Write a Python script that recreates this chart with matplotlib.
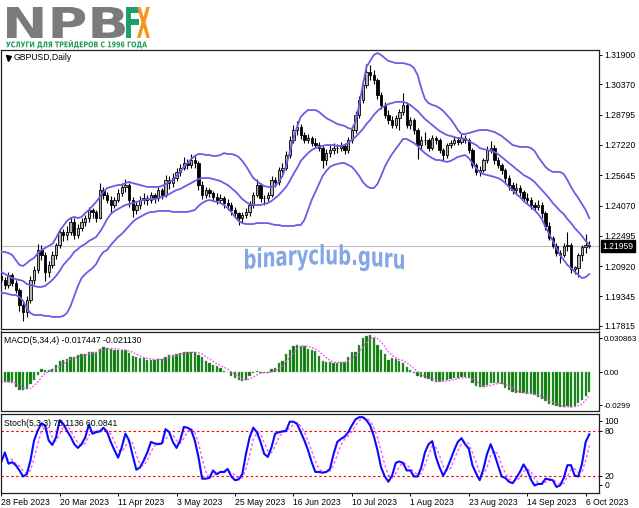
import matplotlib
matplotlib.use("Agg")
import matplotlib.pyplot as plt
import matplotlib.transforms as mtransforms
from matplotlib.font_manager import FontProperties
from matplotlib.patches import PathPatch
from matplotlib.path import Path
from matplotlib.textpath import TextPath
import numpy as np

plt.rcParams["font.family"] = ["Liberation Sans", "DejaVu Sans"]

# ---------------- data ----------------
symbol = "GBPUSD,Daily"
date_labels = ["28 Feb 2023", "20 Mar 2023", "11 Apr 2023", "3 May 2023", "25 May 2023",
               "16 Jun 2023", "10 Jul 2023", "1 Aug 2023", "23 Aug 2023", "14 Sep 2023",
               "6 Oct 2023"]
label_every = 16  # bars between two date labels

opens = [
    1.2040, 1.2018, 1.1992, 1.2045, 1.2003, 1.1966, 1.1888, 1.1852, 1.1914, 1.2018,
    1.2071, 1.2175, 1.2149, 1.2060, 1.2097, 1.2149, 1.2201, 1.2268, 1.2253, 1.2268,
    1.2320, 1.2253, 1.2289, 1.2320, 1.2341, 1.2383, 1.2372, 1.2341, 1.2487, 1.2461,
    1.2435, 1.2409, 1.2435, 1.2471, 1.2503, 1.2513, 1.2435, 1.2383, 1.2409, 1.2435,
    1.2445, 1.2435, 1.2461, 1.2445, 1.2487, 1.2461, 1.2539, 1.2524, 1.2550, 1.2581,
    1.2602, 1.2628, 1.2617, 1.2643, 1.2628, 1.2513, 1.2461, 1.2487, 1.2471, 1.2451,
    1.2435, 1.2445, 1.2419, 1.2409, 1.2383, 1.2367, 1.2341, 1.2357, 1.2372, 1.2409,
    1.2461, 1.2513, 1.2445, 1.2445, 1.2461, 1.2539, 1.2529, 1.2591, 1.2602, 1.2669,
    1.2747, 1.2799, 1.2815, 1.2773, 1.2747, 1.2758, 1.2732, 1.2721, 1.2706, 1.2643,
    1.2680, 1.2695, 1.2706, 1.2706, 1.2716, 1.2695, 1.2747, 1.2799, 1.2878, 1.2956,
    1.3034, 1.3101, 1.3086, 1.3060, 1.2982, 1.2930, 1.2878, 1.2852, 1.2826, 1.2862,
    1.2893, 1.2930, 1.2826, 1.2852, 1.2799, 1.2721, 1.2747, 1.2747, 1.2706, 1.2758,
    1.2747, 1.2695, 1.2669, 1.2721, 1.2732, 1.2747, 1.2737, 1.2758, 1.2747, 1.2695,
    1.2617, 1.2581, 1.2591, 1.2643, 1.2695, 1.2706, 1.2643, 1.2617, 1.2591, 1.2550,
    1.2513, 1.2487, 1.2497, 1.2477, 1.2445, 1.2435, 1.2409, 1.2399, 1.2409, 1.2370,
    1.2300, 1.2240, 1.2195, 1.2160, 1.2150, 1.2195, 1.2200, 1.2075, 1.2085, 1.2150,
    1.2190, 1.2200]
highs = [
    1.2065, 1.2035, 1.2060, 1.2055, 1.2020, 1.1980, 1.1905, 1.1935, 1.2040, 1.2095,
    1.2205, 1.2200, 1.2165, 1.2120, 1.2170, 1.2215, 1.2290, 1.2285, 1.2300, 1.2345,
    1.2340, 1.2310, 1.2340, 1.2360, 1.2400, 1.2395, 1.2385, 1.2525, 1.2505, 1.2480,
    1.2455, 1.2450, 1.2495, 1.2525, 1.2545, 1.2525, 1.2450, 1.2430, 1.2455, 1.2470,
    1.2460, 1.2480, 1.2475, 1.2505, 1.2500, 1.2565, 1.2560, 1.2575, 1.2600, 1.2625,
    1.2660, 1.2650, 1.2675, 1.2665, 1.2640, 1.2535, 1.2505, 1.2500, 1.2485, 1.2470,
    1.2465, 1.2455, 1.2440, 1.2425, 1.2400, 1.2375, 1.2375, 1.2395, 1.2430, 1.2480,
    1.2545, 1.2525, 1.2460, 1.2480, 1.2560, 1.2555, 1.2610, 1.2630, 1.2690, 1.2770,
    1.2825, 1.2845, 1.2830, 1.2790, 1.2780, 1.2770, 1.2760, 1.2740, 1.2715, 1.2700,
    1.2720, 1.2730, 1.2725, 1.2740, 1.2730, 1.2765, 1.2820, 1.2900, 1.2975, 1.3055,
    1.3143, 1.3140, 1.3110, 1.3070, 1.3000, 1.2945, 1.2905, 1.2875, 1.2880, 1.2910,
    1.2990, 1.2945, 1.2870, 1.2865, 1.2810, 1.2770, 1.2790, 1.2760, 1.2775, 1.2770,
    1.2760, 1.2705, 1.2735, 1.2750, 1.2770, 1.2765, 1.2780, 1.2775, 1.2760, 1.2705,
    1.2630, 1.2615, 1.2655, 1.2715, 1.2745, 1.2720, 1.2660, 1.2630, 1.2605, 1.2565,
    1.2530, 1.2525, 1.2515, 1.2490, 1.2470, 1.2450, 1.2425, 1.2435, 1.2425, 1.2380,
    1.2320, 1.2250, 1.2215, 1.2175, 1.2210, 1.2270, 1.2215, 1.2095, 1.2160, 1.2200,
    1.2260, 1.2225]
lows = [
    1.2005, 1.1975, 1.1980, 1.1990, 1.1950, 1.1860, 1.1805, 1.1830, 1.1900, 1.2000,
    1.2055, 1.2125, 1.2015, 1.2035, 1.2080, 1.2130, 1.2185, 1.2225, 1.2230, 1.2255,
    1.2235, 1.2240, 1.2275, 1.2300, 1.2320, 1.2345, 1.2320, 1.2335, 1.2440, 1.2420,
    1.2370, 1.2395, 1.2425, 1.2455, 1.2480, 1.2400, 1.2350, 1.2365, 1.2390, 1.2415,
    1.2410, 1.2420, 1.2420, 1.2430, 1.2440, 1.2450, 1.2495, 1.2505, 1.2535, 1.2560,
    1.2590, 1.2595, 1.2605, 1.2600, 1.2490, 1.2440, 1.2445, 1.2450, 1.2430, 1.2415,
    1.2420, 1.2395, 1.2385, 1.2360, 1.2340, 1.2305, 1.2320, 1.2345, 1.2355, 1.2395,
    1.2450, 1.2425, 1.2410, 1.2430, 1.2450, 1.2505, 1.2515, 1.2575, 1.2590, 1.2655,
    1.2735, 1.2775, 1.2755, 1.2730, 1.2730, 1.2715, 1.2705, 1.2690, 1.2600, 1.2620,
    1.2660, 1.2675, 1.2680, 1.2690, 1.2675, 1.2680, 1.2735, 1.2785, 1.2865, 1.2940,
    1.3020, 1.3060, 1.3040, 1.2960, 1.2910, 1.2860, 1.2830, 1.2810, 1.2810, 1.2800,
    1.2880, 1.2810, 1.2805, 1.2780, 1.2650, 1.2700, 1.2720, 1.2690, 1.2695, 1.2725,
    1.2680, 1.2640, 1.2655, 1.2705, 1.2720, 1.2720, 1.2725, 1.2730, 1.2680, 1.2600,
    1.2565, 1.2560, 1.2580, 1.2630, 1.2680, 1.2625, 1.2600, 1.2570, 1.2530, 1.2490,
    1.2465, 1.2470, 1.2455, 1.2430, 1.2420, 1.2390, 1.2380, 1.2385, 1.2340, 1.2280,
    1.2230, 1.2185, 1.2145, 1.2110, 1.2140, 1.2170, 1.2055, 1.2050, 1.2037, 1.2120,
    1.2160, 1.2185]
closes = [
    1.2018, 1.1992, 1.2045, 1.2003, 1.1966, 1.1888, 1.1852, 1.1914, 1.2018, 1.2071,
    1.2175, 1.2149, 1.2060, 1.2097, 1.2149, 1.2201, 1.2268, 1.2253, 1.2268, 1.2320,
    1.2253, 1.2289, 1.2320, 1.2341, 1.2383, 1.2372, 1.2341, 1.2487, 1.2461, 1.2435,
    1.2409, 1.2435, 1.2471, 1.2503, 1.2513, 1.2435, 1.2383, 1.2409, 1.2435, 1.2445,
    1.2435, 1.2461, 1.2445, 1.2487, 1.2461, 1.2539, 1.2524, 1.2550, 1.2581, 1.2602,
    1.2628, 1.2617, 1.2643, 1.2628, 1.2513, 1.2461, 1.2487, 1.2471, 1.2451, 1.2435,
    1.2445, 1.2419, 1.2409, 1.2383, 1.2367, 1.2341, 1.2357, 1.2372, 1.2409, 1.2461,
    1.2513, 1.2445, 1.2445, 1.2461, 1.2539, 1.2529, 1.2591, 1.2602, 1.2669, 1.2747,
    1.2799, 1.2815, 1.2773, 1.2747, 1.2758, 1.2732, 1.2721, 1.2706, 1.2643, 1.2680,
    1.2695, 1.2706, 1.2706, 1.2716, 1.2695, 1.2747, 1.2799, 1.2878, 1.2956, 1.3034,
    1.3101, 1.3086, 1.3060, 1.2982, 1.2930, 1.2878, 1.2852, 1.2826, 1.2862, 1.2893,
    1.2930, 1.2826, 1.2852, 1.2799, 1.2721, 1.2747, 1.2747, 1.2706, 1.2758, 1.2747,
    1.2695, 1.2669, 1.2721, 1.2732, 1.2747, 1.2737, 1.2758, 1.2747, 1.2695, 1.2617,
    1.2581, 1.2591, 1.2643, 1.2695, 1.2706, 1.2643, 1.2617, 1.2591, 1.2550, 1.2513,
    1.2487, 1.2497, 1.2477, 1.2445, 1.2435, 1.2409, 1.2399, 1.2409, 1.2370, 1.2300,
    1.2240, 1.2195, 1.2160, 1.2150, 1.2195, 1.2200, 1.2075, 1.2085, 1.2150, 1.2190,
    1.2200, 1.21959]
last_price = 1.21959

bb_upper = [
    1.2166, 1.2166, 1.2160, 1.2150, 1.2124, 1.2098, 1.2093, 1.2108, 1.2124, 1.2134,
    1.2160, 1.2176, 1.2186, 1.2197, 1.2207, 1.2238, 1.2275, 1.2301, 1.2327, 1.2342,
    1.2348, 1.2342, 1.2348, 1.2368, 1.2384, 1.2405, 1.2426, 1.2452, 1.2478, 1.2498,
    1.2504, 1.2509, 1.2514, 1.2514, 1.2524, 1.2530, 1.2524, 1.2519, 1.2514, 1.2509,
    1.2504, 1.2504, 1.2504, 1.2504, 1.2509, 1.2519, 1.2530, 1.2540, 1.2561, 1.2582,
    1.2608, 1.2628, 1.2649, 1.2665, 1.2675, 1.2675, 1.2670, 1.2670, 1.2665, 1.2665,
    1.2670, 1.2680, 1.2675, 1.2675, 1.2670, 1.2660, 1.2639, 1.2613, 1.2582, 1.2550,
    1.2535, 1.2519, 1.2509, 1.2504, 1.2504, 1.2509, 1.2530, 1.2561, 1.2613, 1.2686,
    1.2758, 1.2816, 1.2868, 1.2888, 1.2904, 1.2904, 1.2904, 1.2894, 1.2878, 1.2862,
    1.2852, 1.2842, 1.2831, 1.2826, 1.2821, 1.2810, 1.2805, 1.2842, 1.2930, 1.3034,
    1.3128, 1.3159, 1.3190, 1.3200, 1.3190, 1.3174, 1.3159, 1.3154, 1.3148, 1.3148,
    1.3148, 1.3143, 1.3138, 1.3122, 1.3086, 1.3018, 1.2961, 1.2940, 1.2930, 1.2925,
    1.2914, 1.2899, 1.2878, 1.2857, 1.2831, 1.2800, 1.2779, 1.2779, 1.2784, 1.2790,
    1.2795, 1.2800, 1.2800, 1.2800, 1.2795, 1.2790, 1.2779, 1.2769, 1.2753, 1.2738,
    1.2722, 1.2717, 1.2712, 1.2712, 1.2712, 1.2706, 1.2691, 1.2660, 1.2634, 1.2608,
    1.2592, 1.2582, 1.2582, 1.2582, 1.2571, 1.2540, 1.2504, 1.2472, 1.2446, 1.2415,
    1.2384, 1.2342]
bb_middle = [
    1.2062, 1.2051, 1.2041, 1.2030, 1.2025, 1.2020, 1.2015, 1.1999, 1.1994, 1.1989,
    1.1984, 1.1984, 1.1989, 1.2004, 1.2020, 1.2041, 1.2067, 1.2098, 1.2119, 1.2140,
    1.2166, 1.2181, 1.2197, 1.2207, 1.2223, 1.2233, 1.2244, 1.2270, 1.2301, 1.2337,
    1.2363, 1.2379, 1.2389, 1.2400, 1.2410, 1.2415, 1.2420, 1.2426, 1.2431, 1.2436,
    1.2441, 1.2441, 1.2441, 1.2446, 1.2452, 1.2457, 1.2467, 1.2478, 1.2488, 1.2493,
    1.2504, 1.2514, 1.2524, 1.2535, 1.2545, 1.2550, 1.2550, 1.2550, 1.2545, 1.2540,
    1.2535, 1.2524, 1.2514, 1.2498, 1.2483, 1.2462, 1.2441, 1.2426, 1.2415, 1.2410,
    1.2410, 1.2410, 1.2415, 1.2420, 1.2431, 1.2446, 1.2462, 1.2483, 1.2504, 1.2535,
    1.2571, 1.2602, 1.2639, 1.2660, 1.2680, 1.2696, 1.2706, 1.2712, 1.2717, 1.2722,
    1.2722, 1.2722, 1.2717, 1.2717, 1.2722, 1.2732, 1.2748, 1.2764, 1.2784, 1.2805,
    1.2831, 1.2852, 1.2878, 1.2899, 1.2914, 1.2925, 1.2935, 1.2940, 1.2946, 1.2946,
    1.2946, 1.2940, 1.2930, 1.2914, 1.2899, 1.2878, 1.2857, 1.2842, 1.2826, 1.2810,
    1.2795, 1.2784, 1.2774, 1.2769, 1.2764, 1.2758, 1.2758, 1.2753, 1.2743, 1.2732,
    1.2722, 1.2706, 1.2701, 1.2696, 1.2691, 1.2686, 1.2675, 1.2660, 1.2644, 1.2628,
    1.2613, 1.2597, 1.2582, 1.2566, 1.2556, 1.2545, 1.2530, 1.2509, 1.2488, 1.2467,
    1.2446, 1.2420, 1.2400, 1.2379, 1.2363, 1.2337, 1.2316, 1.2290, 1.2270, 1.2249,
    1.2223, 1.2202]
bb_lower = [
    1.1952, 1.1952, 1.1947, 1.1942, 1.1942, 1.1932, 1.1911, 1.1874, 1.1848, 1.1838,
    1.1838, 1.1838, 1.1833, 1.1833, 1.1828, 1.1828, 1.1828, 1.1833, 1.1848, 1.1885,
    1.1937, 1.1989, 1.2030, 1.2051, 1.2067, 1.2082, 1.2103, 1.2140, 1.2166, 1.2176,
    1.2202, 1.2223, 1.2244, 1.2259, 1.2280, 1.2301, 1.2322, 1.2337, 1.2348, 1.2358,
    1.2368, 1.2374, 1.2374, 1.2379, 1.2379, 1.2379, 1.2379, 1.2374, 1.2374, 1.2374,
    1.2374, 1.2374, 1.2379, 1.2384, 1.2405, 1.2420, 1.2431, 1.2436, 1.2431, 1.2426,
    1.2420, 1.2410, 1.2394, 1.2374, 1.2348, 1.2327, 1.2316, 1.2311, 1.2311, 1.2311,
    1.2316, 1.2316, 1.2316, 1.2316, 1.2311, 1.2306, 1.2306, 1.2301, 1.2301, 1.2301,
    1.2301, 1.2306, 1.2306, 1.2332, 1.2384, 1.2436, 1.2478, 1.2519, 1.2561, 1.2587,
    1.2608, 1.2618, 1.2623, 1.2628, 1.2628, 1.2618, 1.2608, 1.2587, 1.2561, 1.2530,
    1.2509, 1.2498, 1.2498, 1.2519, 1.2561, 1.2608, 1.2644, 1.2675, 1.2701, 1.2727,
    1.2753, 1.2753, 1.2743, 1.2732, 1.2717, 1.2696, 1.2680, 1.2665, 1.2654, 1.2644,
    1.2644, 1.2639, 1.2634, 1.2639, 1.2649, 1.2660, 1.2665, 1.2670, 1.2654, 1.2628,
    1.2602, 1.2582, 1.2571, 1.2566, 1.2561, 1.2556, 1.2550, 1.2540, 1.2524, 1.2504,
    1.2488, 1.2467, 1.2452, 1.2431, 1.2415, 1.2400, 1.2384, 1.2363, 1.2337, 1.2296,
    1.2259, 1.2223, 1.2186, 1.2150, 1.2124, 1.2098, 1.2082, 1.2062, 1.2046, 1.2030,
    1.2035, 1.2051]

macd_main = [
    -0.0088, -0.0090, -0.0088, -0.0095, -0.0130, -0.0160, -0.0163, -0.0150, -0.0110, -0.0070,
    -0.0027, 0.0033, 0.0020, 0.0018, 0.0030, 0.0063, 0.0105, 0.0110, 0.0124, 0.0135,
    0.0139, 0.0154, 0.0162, 0.0170, 0.0185, 0.0185, 0.0183, 0.0215, 0.0230, 0.0222,
    0.0210, 0.0205, 0.0200, 0.0202, 0.0198, 0.0175, 0.0150, 0.0135, 0.0130, 0.0128,
    0.0115, 0.0112, 0.0110, 0.0125, 0.0122, 0.0140, 0.0155, 0.0160, 0.0165, 0.0175,
    0.0180, 0.0182, 0.0185, 0.0180, 0.0160, 0.0135, 0.0100, 0.0085, 0.0070, 0.0060,
    0.0035, 0.0015, 0.0005, -0.0035, -0.0055, -0.0072, -0.0078, -0.0068, -0.0030, -0.0005,
    0.0008, -0.0006, -0.0008, -0.0004, 0.0030, 0.0035, 0.0080, 0.0100, 0.0170, 0.0200,
    0.0235, 0.0245, 0.0242, 0.0238, 0.0215, 0.0200, 0.0190, 0.0150, 0.0100, 0.0092,
    0.0090, 0.0088, 0.0088, 0.0090, 0.0092, 0.0140, 0.0180, 0.0185, 0.0250, 0.0310,
    0.0330, 0.0335, 0.0310, 0.0250, 0.0200, 0.0170, 0.0110, 0.0130, 0.0120, 0.0100,
    0.0080, 0.0050, 0.0020, -0.0010, -0.0035, -0.0045, -0.0055, -0.0065, -0.0075, -0.0085,
    -0.0085, -0.0080, -0.0070, -0.0060, -0.0055, -0.0050, -0.0045, -0.0045, -0.0050, -0.0100,
    -0.0125, -0.0135, -0.0130, -0.0115, -0.0095, -0.0100, -0.0095, -0.0105, -0.0140, -0.0160,
    -0.0175, -0.0185, -0.0190, -0.0190, -0.0195, -0.0200, -0.0210, -0.0225, -0.0240, -0.0265,
    -0.0285, -0.0300, -0.0310, -0.0315, -0.0318, -0.0310, -0.0315, -0.0305, -0.0280, -0.0250,
    -0.0215, -0.017447]
macd_signal = [
    -0.0085, -0.0087, -0.0088, -0.0090, -0.0101, -0.0118, -0.0137, -0.0151, -0.0146, -0.0123,
    -0.0089, -0.0044, -0.0011, 0.0011, 0.0025, 0.0033, 0.0054, 0.0077, 0.0101, 0.0119,
    0.0127, 0.0138, 0.0148, 0.0156, 0.0168, 0.0176, 0.0181, 0.0192, 0.0203, 0.0213,
    0.0219, 0.0217, 0.0209, 0.0204, 0.0201, 0.0194, 0.0181, 0.0165, 0.0148, 0.0136,
    0.0127, 0.0121, 0.0116, 0.0116, 0.0117, 0.0124, 0.0136, 0.0144, 0.0155, 0.0164,
    0.0170, 0.0176, 0.0181, 0.0182, 0.0177, 0.0165, 0.0144, 0.0120, 0.0098, 0.0079,
    0.0063, 0.0045, 0.0029, 0.0005, -0.0018, -0.0039, -0.0060, -0.0068, -0.0062, -0.0045,
    -0.0024, -0.0008, -0.0003, -0.0003, 0.0003, 0.0013, 0.0035, 0.0061, 0.0096, 0.0138,
    0.0176, 0.0213, 0.0231, 0.0240, 0.0235, 0.0224, 0.0211, 0.0189, 0.0160, 0.0133,
    0.0108, 0.0093, 0.0090, 0.0089, 0.0090, 0.0103, 0.0126, 0.0149, 0.0189, 0.0231,
    0.0269, 0.0306, 0.0321, 0.0306, 0.0274, 0.0233, 0.0183, 0.0153, 0.0133, 0.0115,
    0.0108, 0.0088, 0.0063, 0.0035, 0.0006, -0.0018, -0.0036, -0.0050, -0.0060, -0.0070,
    -0.0078, -0.0081, -0.0080, -0.0074, -0.0066, -0.0059, -0.0053, -0.0049, -0.0048, -0.0060,
    -0.0080, -0.0103, -0.0123, -0.0126, -0.0119, -0.0110, -0.0101, -0.0099, -0.0110, -0.0125,
    -0.0145, -0.0165, -0.0178, -0.0185, -0.0190, -0.0194, -0.0199, -0.0208, -0.0219, -0.0235,
    -0.0254, -0.0273, -0.0290, -0.0303, -0.0311, -0.0313, -0.0315, -0.0312, -0.0303, -0.0288,
    -0.0255, -0.021130]

stoch_k = [
    38, 51, 36, 38, 34, 27, 19, 22, 40, 67,
    80, 90, 87, 67, 61, 71, 94, 89, 80, 72,
    62, 57, 62, 71, 88, 76, 78, 79, 84, 78,
    65, 54, 44, 58, 76, 67, 47, 28, 31, 40,
    51, 65, 63, 62, 63, 82, 78, 65, 57, 67,
    85, 84, 81, 67, 45, 16, 16, 17, 27, 22,
    25, 25, 29, 19, 14, 15, 22, 49, 71, 84,
    78, 65, 49, 45, 58, 76, 78, 79, 80, 92,
    92, 89, 78, 67, 54, 38, 25, 25, 24, 25,
    29, 49, 65, 69, 72, 78, 87, 95, 98, 98,
    94, 87, 73, 54, 31, 19, 12, 20, 37, 39,
    37, 27, 27, 19, 19, 31, 51, 62, 66, 45,
    31, 20, 29, 41, 54, 65, 70, 62, 56, 34,
    23, 14, 29, 49, 62, 49, 34, 19, 17, 12,
    10, 17, 25, 35, 27, 15, 7, 9, 9, 16,
    15, 14, 5, 7, 17, 34, 34, 20, 19, 36,
    65, 75.1136]
stoch_d = [
    42, 44, 41.7, 41.7, 36, 33, 26.7, 22.7, 27, 43,
    62.3, 79, 85.7, 81.3, 71.7, 66.3, 75.3, 84.7, 87.7, 80.3,
    71.3, 63.7, 60.3, 63.3, 73.7, 78.3, 80.7, 77.7, 80.3, 80.3,
    75.7, 65.7, 54.3, 52, 59.3, 67, 63.3, 47.3, 35.3, 33,
    40.7, 52, 59.7, 63.3, 62.7, 69, 74.3, 75, 66.7, 63,
    69.7, 78.7, 83.3, 77.3, 64.3, 42.7, 25.7, 16.3, 20, 22,
    24.7, 24, 26.3, 24.3, 20.7, 16, 17, 28.7, 47.3, 68,
    77.7, 75.7, 64, 53, 50.7, 59.7, 70.7, 77.7, 79, 83.7,
    88, 91, 86.3, 78, 66.3, 53, 39, 29.3, 24.7, 24.7,
    26, 34.3, 47.7, 61, 68.7, 73, 79, 86.7, 93.3, 97,
    96.7, 93, 84.7, 71.3, 52.7, 34.7, 20.7, 17, 23, 32,
    37.7, 34.3, 30.3, 24.3, 21.7, 23, 33.7, 48, 59.7, 57.7,
    47.3, 32, 26.7, 30, 41.3, 53.3, 63, 65.7, 62.7, 50.7,
    37.7, 23.7, 22, 30.7, 46.7, 53.3, 48.3, 34, 23.3, 16,
    13, 13, 17.3, 25.7, 29, 25.7, 16.3, 10.3, 8.3, 11.3,
    13.3, 15, 11.3, 8.7, 9.7, 19.3, 28.3, 29.3, 24.3, 25,
    40, 60.0841]
stoch_levels = [20, 80]

price_ticks = [1.31900, 1.30370, 1.28795, 1.27220, 1.25645, 1.24070,
               1.22495, 1.20920, 1.19345, 1.17815]
macd_ticks = [0.030863, 0.0, -0.0299]
macd_tick_labels = ["0.030863", "0.00", "-0.0299"]

# ---------------- figure ----------------
W, H = 639, 508
FS = 6.2
fig = plt.figure(figsize=(W / 100, H / 100), dpi=100)
fig.patch.set_facecolor("white")


def panel(top, bottom):
    return fig.add_axes([0.5 / W, 1 - bottom / H, 598.5 / W, (bottom - top) / H])


ax = panel(49.5, 328.5)
axm = panel(331.5, 410.5)
axs = panel(413.5, 492.5)

x = np.arange(len(closes))
for a in (ax, axm, axs):
    a.set_xlim(-0.19, 163.65)
    a.set_facecolor("white")
    for s in a.spines.values():
        s.set_color("#202020")
        s.set_linewidth(0.9)
    a.yaxis.tick_right()
    a.tick_params(axis="y", direction="out", length=2.5, width=0.7, pad=1.5,
                  labelsize=FS, colors="black")
    a.set_xticks([])

# candles
o, h, l, c = map(np.array, (opens, highs, lows, closes))
up = c >= o
ax.vlines(x, l, h, color="black", lw=0.8, zorder=3)
body_lo = np.minimum(o, c)
body_h = np.maximum(np.abs(c - o), 0.00015)
ax.bar(x[up], body_h[up], bottom=body_lo[up], width=0.64, color="#b4b4b4",
       edgecolor="black", lw=0.6, zorder=4)
ax.bar(x[~up], body_h[~up], bottom=body_lo[~up], width=0.64, color="black",
       edgecolor="black", lw=0.6, zorder=4)

bb_col = "#6b5ce7"
for band in (bb_upper, bb_middle, bb_lower):
    ax.plot(x, band, color=bb_col, lw=1.3, zorder=5)

ax.axhline(last_price, color="#c0c0c0", lw=0.8, zorder=1)
ax.set_ylim(1.17678, 1.32186)
ax.set_yticks(price_ticks)
ax.set_yticklabels([f"{v:.5f}" for v in price_ticks])
trans = mtransforms.blended_transform_factory(ax.transAxes, ax.transData)
ax.text(1.006, last_price, f"{last_price:.5f}", transform=trans, ha="left",
        va="center", color="white", fontsize=FS,
        bbox=dict(facecolor="black", edgecolor="black", pad=1.0), zorder=10)

# MACD
axm.bar(x, macd_main, width=0.62, color="#0a780a", edgecolor="#5fb55f", lw=0.3)
axm.plot(x, macd_signal, color="#ff44ff", lw=1.0, ls=(0, (1.2, 1.2)))
axm.set_ylim(-0.03469, 0.03705)
axm.set_yticks(macd_ticks)
axm.set_yticklabels(macd_tick_labels)
axm.tick_params(axis="y", labelsize=5.8, pad=1.0)

# Stochastic
for lev in stoch_levels:
    axs.axhline(lev, color="#ff0000", lw=0.8, ls=(0, (2.2, 2.2)))
axs.plot(x, stoch_d, color="#ff55ff", lw=1.0, ls=(0, (2, 1.6)))
axs.plot(x, stoch_k, color="#0a0aff", lw=1.5)
axs.set_ylim(-2.4, 102.9)
axs.set_yticks([93.3, 80, 20, 7.9])
axs.set_yticklabels(["100", "80", "20", "0"])
axs.set_xticks(np.arange(len(date_labels)) * label_every)
axs.set_xticklabels(date_labels)
axs.tick_params(axis="x", direction="out", length=2.5, width=0.7, pad=1.2,
                labelsize=FS, colors="black")
for t in axs.get_xticklabels():
    t.set_ha("left")

# ---------------- overlay: texts, logo, watermark ----------------
ov = fig.add_axes([0, 0, 1, 1], zorder=20)
ov.set_xlim(0, W)
ov.set_ylim(H, 0)
ov.axis("off")


def fit_text(s, x0, y0, x1, y1, color, bend=0.0, alpha=1.0):
    tp = TextPath((0, 0), s, size=20,
                  prop=FontProperties(family="DejaVu Sans", weight="bold"))
    ext = tp.get_extents()
    v = tp.vertices
    u = (v[:, 0] - ext.x0) / ext.width
    w = (v[:, 1] - ext.y0) / ext.height
    xs = x0 + u * (x1 - x0)
    ys = y1 - w * (y1 - y0) + bend * (2 * u - 1) ** 2
    ov.add_patch(PathPatch(Path(np.column_stack([xs, ys]), tp.codes),
                           facecolor=color, edgecolor="none", lw=0, alpha=alpha))


fit_text("NPB", 7, 7, 125, 38, "#7b7b7b")
fit_text("F", 126, 7, 139, 38, "#1d9f6c")
fit_text("X", 137, 7, 150, 38, "#f7931e")
fit_text("УСЛУГИ ДЛЯ ТРЕЙДЕРОВ С 1996 ГОДА", 6, 40, 147, 48.5, "#1e9a57")
fit_text("binaryclub.guru", 245, 244, 404, 270, "#7a9fe2", bend=5.0, alpha=0.92)

ov.plot([7.5], [57.5], marker="v", ms=3.6, color="black", mec="black")
ov.text(14, 57.5, symbol, fontsize=FS, va="center", ha="left")
ov.text(4, 340.5, "MACD(5,34,4) -0.017447 -0.021130", fontsize=FS, va="center", ha="left")
ov.text(4, 423, "Stoch(5,3,3) 75.1136 60.0841", fontsize=FS, va="center", ha="left")

fig.savefig("out.png", dpi=100, facecolor="white")
